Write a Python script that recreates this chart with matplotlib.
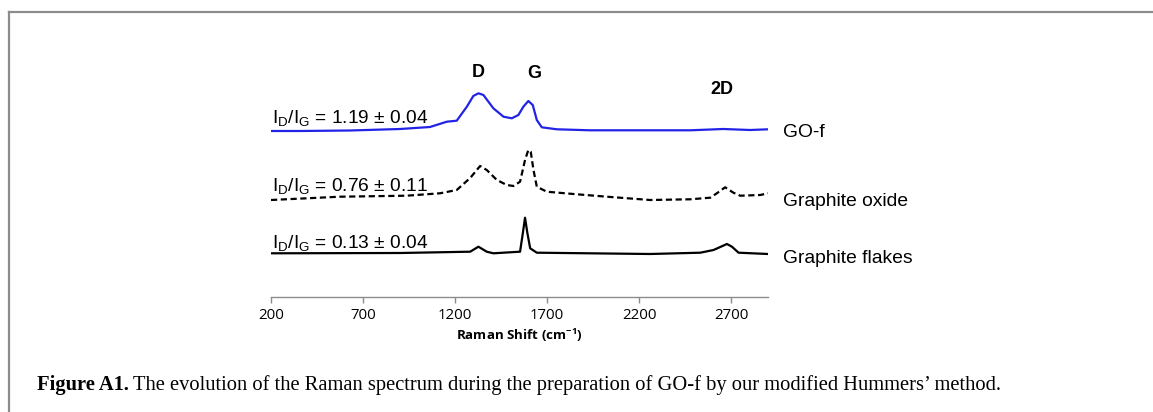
import matplotlib
matplotlib.use('Agg')
import matplotlib.pyplot as plt
from matplotlib.lines import Line2D

# Data (Raman shift in cm-1, intensity in arbitrary offset units)
gof_shift = [200, 358, 629, 901, 1064, 1155, 1209, 1264, 1299, 1327, 1354, 1408, 1463,
             1508, 1544, 1571, 1598, 1622, 1644, 1671, 1753, 1934, 2477, 2657, 2803, 2900]
gof_int = [167, 167, 167.5, 169, 171, 176.3, 177.3, 191.3, 202, 204.7, 203, 189.7, 181.3,
           179.7, 183, 191.3, 197, 193, 178, 170.7, 168.7, 167.7, 167.7, 169, 168, 168.7]

oxide_shift = [200, 575, 937, 1118, 1209, 1282, 1336, 1372, 1427, 1481, 1517, 1553, 1580,
               1598, 1611, 1626, 1644, 1698, 1843, 2024, 2260, 2477, 2586, 2622, 2667,
               2712, 2749, 2858, 2900]
oxide_int = [98, 101.3, 102.3, 104.7, 108, 120, 132, 128, 118, 113, 112, 116.3, 138,
             148, 146.3, 128, 111.3, 106.3, 104, 101.3, 98, 98.7, 100.3, 104.7, 110.7,
             105.3, 102.3, 103, 104.7]

flakes_shift = [200, 901, 1282, 1327, 1372, 1408, 1553, 1568, 1580, 1593, 1608, 1644,
                2260, 2532, 2604, 2677, 2704, 2740, 2900]
flakes_int = [44.7, 45, 46.3, 51.3, 46.3, 44.7, 46.3, 64.7, 80.3, 64.7, 49.7, 45.3,
              44, 45.3, 48, 54, 51.3, 45.3, 44]

ratios = ['1.19 ± 0.04', '0.76 ± 0.11', '0.13 ± 0.04']
names = ['GO-f', 'Graphite oxide', 'Graphite flakes']
peaks = ['D', 'G', '2D']
xticks = [200, 700, 1200, 1700, 2200, 2700]

plt.rcParams['font.family'] = 'Liberation Sans'
plt.rcParams['mathtext.fontset'] = 'custom'
plt.rcParams['mathtext.rm'] = 'Liberation Sans'
plt.rcParams['mathtext.bf'] = 'Open Sans:bold'

fig = plt.figure(figsize=(11.53, 4.12), dpi=100)
ax = fig.add_axes([271 / 1153, (412 - 296.5) / 412, 497 / 1153, 236.5 / 412])

ax.plot(gof_shift, gof_int, color='#2323e6', lw=1.6)
ax.plot(oxide_shift, oxide_int, color='black', lw=1.6, dashes=(2.8, 1.6))
ax.plot(flakes_shift, flakes_int, color='black', lw=1.6)

ax.set_xlim(200, 2900)
ax.set_ylim(1.5, 238)
ax.set_xticks(xticks)
ax.set_xticklabels([str(t) for t in xticks], fontfamily='Open Sans', fontsize=10.8)
ax.tick_params(axis='x', direction='out', length=4, width=1, color='#8c8c8c', pad=4)
ax.set_yticks([])
for s in ['top', 'right', 'left']:
    ax.spines[s].set_visible(False)
ax.spines['bottom'].set_color('#8c8c8c')
ax.spines['bottom'].set_linewidth(1)
ax.set_xlabel(r'Raman Shift (cm$^{\mathbf{-1}}$)', fontfamily='Open Sans',
              fontweight='bold', fontsize=9.6, labelpad=3)

# peak labels
ax.text(1327, 221, peaks[0], ha='center', va='baseline', fontsize=13, fontweight='bold')
ax.text(1629, 220, peaks[1], ha='center', va='baseline', fontsize=13, fontweight='bold')
ax.text(2651, 204, peaks[2], ha='center', va='baseline', fontsize=13, fontweight='bold')

# ratio annotations and series names
ratio_y = [174.7, 106.3, 49.7]
name_y = [160.7, 92, 34.7]
for r, n, ry, ny in zip(ratios, names, ratio_y, name_y):
    ax.text(205, ry, r'I$_\mathregular{D}$/I$_\mathregular{G}$ = ' + r, ha='left',
            va='baseline', fontsize=13.8)
    ax.text(2981, ny, n, ha='left', va='baseline', fontsize=13.9, clip_on=False)

# frame lines
fig.add_artist(Line2D([8.5 / 1153, 1], [1 - 12 / 412, 1 - 12 / 412], color='#8c8c8c', lw=1.6))
fig.add_artist(Line2D([8.5 / 1153, 8.5 / 1153], [0, 1 - 12 / 412], color='#8c8c8c', lw=1.6))

# caption
t1 = fig.text(37 / 1153, 1 - 390 / 412, 'Figure A1.', fontfamily='Liberation Serif',
              fontweight='bold', fontsize=14.8, va='baseline')
fig.canvas.draw()
bb = t1.get_window_extent()
fig.text(bb.x1 / 1153 + 4 / 1153, 1 - 390 / 412,
         'The evolution of the Raman spectrum during the preparation of GO-f by our modified Hummers\u2019 method.',
         fontfamily='Liberation Serif', fontsize=14.8, va='baseline')

fig.savefig('out.png', dpi=100)
